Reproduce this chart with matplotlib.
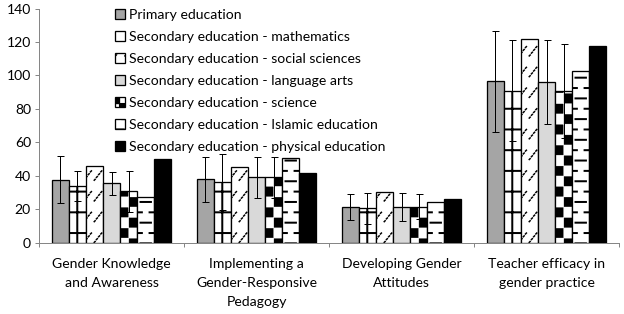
import numpy as np
import matplotlib
matplotlib.use("Agg")
import matplotlib.pyplot as plt
import matplotlib.hatch as mhatch
from matplotlib.path import Path

# ---------------- data ----------------
categories = ["Gender Knowledge\nand Awareness",
              "Implementing a\nGender-Responsive\nPedagogy",
              "Developing Gender\nAttitudes",
              "Teacher efficacy in\ngender practice"]
series_names = ["Primary education",
                "Secondary education - mathematics",
                "Secondary education - social sciences",
                "Secondary education - language arts",
                "Secondary education - science",
                "Secondary education - Islamic education",
                "Secondary education - physical education"]
primary = [37.6, 37.9, 21.1, 96.5]
primary_err = [14.2, 13.4, 7.7, 30.1]
mathematics = [34.0, 36.1, 20.5, 90.8]
mathematics_err = [9.0, 16.7, 9.4, 30.2]
social = [46.0, 45.2, 30.4, 121.6]
language = [35.4, 38.9, 21.1, 95.9]
language_err = [6.7, 12.4, 8.5, 25.0]
science = [30.6, 38.9, 21.4, 90.8]
science_err = [12.1, 12.0, 7.4, 28.0]
islamic = [27.4, 50.7, 24.1, 102.6]
physical = [50.1, 41.4, 26.0, 117.6]
y_ticks = [0, 20, 40, 60, 80, 100, 120, 140]

# ---------------- layout / style ----------------
W, H, DPI = 624, 314, 145
AX_L, AX_R, AX_B, AX_T = 39 / W, 619 / W, 71.5 / H, 305.5 / H
BAR_W = 0.118
NSER = 7
GROUP_PX = (AX_R - AX_L) * W / len(categories)
FS = 14 * 72 / DPI          # 14 px text
PX = 72 / DPI               # one pixel in points
GRAY_AX = "#868686"

plt.rcParams["font.family"] = ["Lato", "DejaVu Sans"]


def tile_u(idx):
    """position of a bar centre inside the (1 inch) hatch tile"""
    x_px = AX_L * W + (0.5 + (idx - (NSER - 1) / 2) * BAR_W) * GROUP_PX
    return (x_px % DPI) / DPI


def clip_h(x0, x1, y, out):
    for s in (-1, 0, 1):
        a, b = max(x0 + s, 0.0), min(x1 + s, 1.0)
        if b > a:
            out.append(((a, y), (b, y)))


def seg_class(char, segs):
    verts = np.array(segs, float).reshape(-1, 2)
    cds = np.tile([Path.MOVETO, Path.LINETO], len(segs)).astype(Path.code_type)

    class _H(mhatch.HatchPatternBase):
        def __init__(self, hatch, density):
            self.num_vertices = len(verts) if (hatch and char in hatch) else 0

        def set_vertices_and_codes(self, vertices, codes):
            vertices[:] = verts
            codes[:] = cds
    return _H


def rect_class(char, rects):
    vs, cs = [], []
    for (x0, y0, x1, y1) in rects:
        vs += [(x0, y0), (x1, y0), (x1, y1), (x0, y1), (x0, y0)]
        cs += [Path.MOVETO, Path.LINETO, Path.LINETO, Path.LINETO, Path.CLOSEPOLY]
    verts = np.array(vs, float)
    cds = np.array(cs, Path.code_type)

    class _H(mhatch.HatchPatternBase):
        def __init__(self, hatch, density):
            self.num_vertices = len(verts) if (hatch and char in hatch) else 0

        def set_vertices_and_codes(self, vertices, codes):
            vertices[:] = verts
            codes[:] = cds
    return _H


# large grid (mathematics)
grid = []
for k in range(7):
    grid.append(((0.0, (k + 0.75) / 7), (1.0, (k + 0.75) / 7)))
um = tile_u(1)
grid.append(((um, 0.0), (um, 1.0)))

# dotted upward diagonals (social sciences)
diag = []
dot = 0.9 / 145
for r in range(7):
    for c in range(14):
        x0 = (c + 0.1) / 14
        y0 = (r + 0.3) / 7
        for d in range(4):
            px0 = x0 + d * 2.2 / 145
            py0 = y0 + d * 2.8 / 145
            diag.append(((px0, py0), (px0 + dot, py0 + dot)))

# checkerboard (science)
us = tile_u(4)
shr = 0.4 / 145
checks = []
for r in range(14):
    for c in range(16):
        if (r + c) % 2:
            continue
        x0 = us + c / 16
        x1 = x0 + 1 / 16
        y0, y1 = r / 14 + shr, (r + 1) / 14 - shr
        for s in (-2, -1, 0, 1):
            a, b = max(x0 + s, 0.0), min(x1 + s, 1.0)
            if b - a > 2 * shr:
                checks.append((a + shr, y0, b - shr, y1))

# staggered horizontal dashes (Islamic education)
ui = tile_u(5)
dashes = []
half = 5.2 / 145
for r in range(14):
    v = (r + 0.5) / 14
    for k in range(8):
        cx = ui + (k + 0.5 * (r % 2)) / 8
        clip_h(cx - half, cx + half, v, dashes)

mhatch._hatch_types[:] = [mhatch.HorizontalHatch, mhatch.VerticalHatch,
                          mhatch.NorthEastHatch, mhatch.SouthEastHatch,
                          seg_class("*", grid), seg_class(".", diag),
                          rect_class("O", checks), seg_class("o", dashes)]

# ---------------- figure ----------------
fig = plt.figure(figsize=(W / DPI, H / DPI), dpi=DPI)
ax = fig.add_axes([AX_L, AX_B, AX_R - AX_L, AX_T - AX_B])

values = [primary, mathematics, social, language, science, islamic, physical]
errors = [primary_err, mathematics_err, None, language_err, science_err, None, None]
faces = ["#a5a5a5", "white", "white", "#d9d9d9", "white", "white", "black"]
hatches = [None, "*", ".", None, "O", "o", None]
hlw = [1.0, 2.0, 1.5, 1.0, 0.3, 2.0, 1.0]   # px

x = np.arange(len(categories))
for i in range(NSER):
    xi = x + (i - (NSER - 1) / 2) * BAR_W
    bars = ax.bar(xi, values[i], BAR_W, color=faces[i], edgecolor="black",
                  linewidth=1.3 * PX, hatch=hatches[i], label=series_names[i],
                  zorder=2)
    for p in bars.patches:
        if hasattr(p, "set_hatch_linewidth"):
            p.set_hatch_linewidth(hlw[i] * PX)
    if errors[i] is not None:
        ax.errorbar(xi, values[i], yerr=errors[i], fmt="none", ecolor="black",
                    elinewidth=1.0 * PX, capsize=3.5 * PX, capthick=1.0 * PX,
                    zorder=3)

ax.set_xlim(-0.5, len(categories) - 0.5)
ax.set_ylim(0, 140)
ax.set_yticks(y_ticks)
ax.set_xticks(x)
ax.set_xticklabels(categories, fontsize=FS, linespacing=1.75)
ax.set_xticks(np.arange(len(categories) + 1) - 0.5, minor=True)
ax.tick_params(axis="x", which="major", length=0, pad=15 * PX)
ax.tick_params(axis="x", which="minor", length=4 * PX, width=1 * PX,
               color=GRAY_AX)
ax.tick_params(axis="y", length=4 * PX, width=1 * PX, color=GRAY_AX,
               labelsize=FS, pad=4 * PX)
for s in ("top", "right"):
    ax.spines[s].set_visible(False)
for s in ("left", "bottom"):
    ax.spines[s].set_color(GRAY_AX)
    ax.spines[s].set_linewidth(1 * PX)

leg = ax.legend(loc="upper left", bbox_to_anchor=(115 / W, 1 - 9 / H),
                bbox_transform=fig.transFigure, frameon=False, fontsize=FS,
                borderpad=0, borderaxespad=0, handlelength=0.72,
                handleheight=0.72, handletextpad=0.3, labelspacing=0.71)
leg.set_zorder(5)

fig.savefig("out.png", dpi=DPI)
